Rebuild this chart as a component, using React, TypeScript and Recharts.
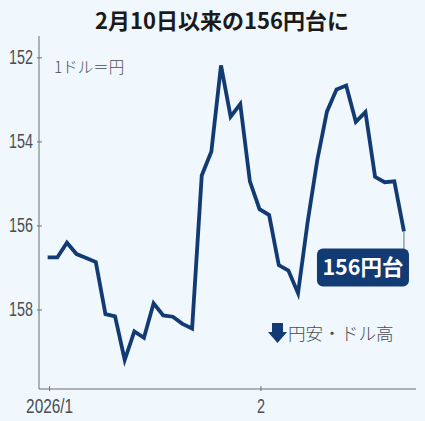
import { LineChart, Line, XAxis, YAxis, ReferenceDot } from "recharts";

// 1ドル=円, daily
const rates = [
  156.75, 156.75, 156.4, 156.67, 156.76, 156.86, 158.1, 158.15, 159.19, 158.51,
  158.66, 157.84, 158.13, 158.16, 158.33, 158.44, 154.8, 154.23, 152.18, 153.4,
  153.1, 154.94, 155.6, 155.74, 156.93, 157.06, 157.6, 155.9, 154.43, 153.28,
  152.75, 152.66, 153.52, 153.29, 154.83, 154.96, 154.94, 156.13,
];
const yTicks = [152, 154, 156, 158];
const xTickPositions = [0.2, 22.15];
const xTickLabels = ["2026/1", "2"];

const NAVY = "#123a73";
const AXIS = "#6b7075";
const LABEL = "#4a4d52";
const JP = "'Noto Sans CJK JP', sans-serif";
const SANS = "'Liberation Sans', sans-serif";

const data = rates.map((rate, i) => ({ i, rate }));

// the original uses a condensed face, so squeeze the digits to about 8px each
function YTick({ x, y, payload }: any) {
  return (
    <g>
      <line x1={x} x2={x + 5} y1={y} y2={y} stroke={AXIS} />
      <text
        x={x - 4}
        y={y + 6.5}
        textAnchor="end"
        fontFamily={SANS}
        fontSize={20}
        fill={LABEL}
        textLength={24}
        lengthAdjust="spacingAndGlyphs"
      >
        {payload.value}
      </text>
    </g>
  );
}

function XTick({ x, y, index }: any) {
  const label = xTickLabels[index];
  return (
    <g>
      <line x1={x} x2={x} y1={y} y2={y - 5} stroke={AXIS} />
      <text
        x={x}
        y={y + 22}
        textAnchor="middle"
        fontFamily={SANS}
        fontSize={20}
        fill={LABEL}
        textLength={label.length > 1 ? 47 : 8}
        lengthAdjust="spacingAndGlyphs"
      >
        {label}
      </text>
    </g>
  );
}

function Callout({ cx, cy }: any) {
  return (
    <g>
      <line x1={cx} x2={cx} y1={cy} y2={cy + 18} stroke={AXIS} />
      <rect x={cx - 87} y={cy + 17} width={92} height={38} rx={6} fill={NAVY} />
      <text x={cx - 41} y={cy + 44} textAnchor="middle" fontFamily={JP} fontWeight={700} fontSize={21.5} fill="#fff">
        156円台
      </text>
    </g>
  );
}

export default function App() {
  return (
    <div style={{ position: "absolute", left: 0, top: 0, width: 425, height: 421, background: "#f0f7fd" }}>
      <LineChart width={425} height={421} data={data} margin={{ top: 36, right: 9, bottom: 0, left: 0 }}>
        <XAxis
          dataKey="i"
          type="number"
          domain={[-0.9, 38.25]}
          ticks={xTickPositions}
          interval={0}
          height={32}
          tickSize={0}
          tickLine={false}
          tick={XTick}
          stroke={AXIS}
        />
        <YAxis
          reversed
          type="number"
          domain={[151.48, 159.88]}
          ticks={yTicks}
          interval={0}
          width={39}
          tickSize={0}
          tickLine={false}
          tick={YTick}
          stroke={AXIS}
        />
        <Line
          dataKey="rate"
          type="linear"
          stroke={NAVY}
          strokeWidth={3.8}
          strokeLinejoin="miter"
          strokeLinecap="butt"
          dot={false}
          isAnimationActive={false}
        />
        <ReferenceDot x={rates.length - 1} y={rates[rates.length - 1]} shape={Callout} />
        <text x={222} y={29} textAnchor="middle" fontFamily={JP} fontWeight={700} fontSize={22} fill="#1a1a1a">
          2月10日以来の156円台に
        </text>
        <text x={54} y={73} fontFamily={JP} fontWeight={300} fontSize={15.5} fill={LABEL}>
          1ドル＝円
        </text>
        <polygon points="272,323 283,323 283,332 287,332 277.5,343 268,332 272,332" fill={NAVY} />
        <text x={288} y={340} fontFamily={JP} fontWeight={300} fontSize={17.6} fill={LABEL}>
          円安・ドル高
        </text>
      </LineChart>
    </div>
  );
}
